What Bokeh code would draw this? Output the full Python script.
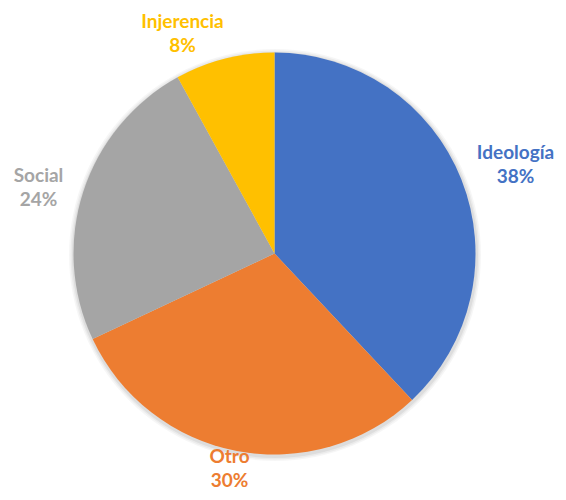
import math
from bokeh.plotting import figure
from bokeh.models import Range1d, ColumnDataSource
from bokeh.core.properties import value
from bokeh.embed import file_html
from bokeh.resources import INLINE

# data
categories = ["Ideología", "Otro", "Social", "Injerencia"]
shares = [38, 30, 24, 8]
colors = ["#4472C4", "#ED7D31", "#A5A5A5", "#FFC000"]

W, H = 558, 492
cx_pic, cy_pic, R = 274, 253, 201
cx, cy = cx_pic, H - cy_pic

starts, ends = [], []
a = math.pi / 2
total = sum(shares)
for s in shares:
    starts.append(a)
    a -= s / total * 2 * math.pi
    ends.append(a)

p = figure(width=W, height=H, output_backend="svg", toolbar_location=None,
           x_range=Range1d(0, W), y_range=Range1d(0, H), min_border=0)
p.axis.visible = False
p.grid.visible = False
p.outline_line_color = None
p.background_fill_color = "white"
p.border_fill_color = "white"

# soft shadow
for off, al in [(5, 0.035), (3.5, 0.045), (2, 0.06)]:
    p.circle(x=[cx + 0.5], y=[cy - 1.5], radius=R + off, fill_color="black",
             fill_alpha=al, line_color=None)

src = ColumnDataSource(dict(start=starts, end=ends, color=colors))
p.wedge(x=cx, y=cy, radius=R, start_angle="start", end_angle="end",
        direction="clock", fill_color="color", line_color=None, source=src)

# label layout: offset of label centre (x) and first-line centre (y, downwards) from pie centre
label_offsets = [(241, -102), (-45, 202), (-236, -79), (-92, -233)]
FS = 19
line_gap = 24
for cat, sh, col, (dx, dy) in zip(categories, shares, colors, label_offsets):
    lx = cx + dx
    mid1 = cy_pic + dy
    for k, txt in enumerate([cat, f"{sh}%"]):
        p.text(x=[lx], y=[H - (mid1 + k * line_gap)], text=[txt], text_color=col,
               text_font=value("Lato"), text_font_style="bold",
               text_font_size=f"{FS}px", text_align="center",
               text_baseline="middle")

open("out.html", "w").write(file_html(p, INLINE))
